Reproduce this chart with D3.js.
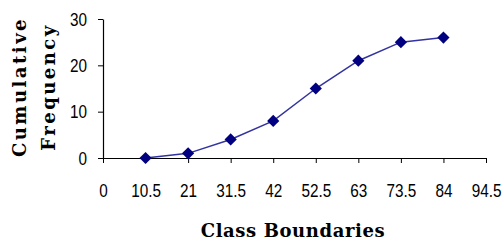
<!DOCTYPE html>
<html>
<head>
<meta charset="utf-8">
<script src="https://cdn.jsdelivr.net/npm/d3@7"></script>
<style>
  body { margin: 0; background: #fff; }
  svg { display: block; }
</style>
</head>
<body>
<div id="chart"></div>
<script>
(function () {
  // data
  const boundaries = [10.5, 21, 31.5, 42, 52.5, 63, 73.5, 84];
  const cumFreq = [0, 1, 4, 8, 15, 21, 25, 26];
  const xTicks = [0, 10.5, 21, 31.5, 42, 52.5, 63, 73.5, 84, 94.5];
  const yTicks = [0, 10, 20, 30];

  const W = 504, H = 242;
  const margin = { top: 19, right: 18, bottom: 84, left: 103 };
  const width = W - margin.left - margin.right;
  const height = H - margin.top - margin.bottom;

  const svg = d3.select("#chart").append("svg")
    .attr("width", W)
    .attr("height", H);

  const g = svg.append("g")
    .attr("transform", "translate(" + margin.left + "," + margin.top + ")");

  const x = d3.scaleLinear().domain([0, 94.5]).range([0, width]);
  const y = d3.scaleLinear().domain([0, 30]).range([height, 0]);

  // axes
  const yAxis = g.append("g")
    .call(d3.axisLeft(y).tickValues(yTicks).tickSize(5).tickSizeOuter(0).tickFormat(d3.format("d")));
  const xAxis = g.append("g")
    .attr("transform", "translate(0," + height + ")")
    .call(d3.axisBottom(x).tickValues(xTicks).tickSize(5).tickSizeOuter(0).tickFormat(d => String(d)));

  [xAxis, yAxis].forEach(a => {
    a.select(".domain").attr("stroke", "#000").attr("stroke-width", 1.2);
    a.selectAll(".tick line").attr("stroke", "#000");
    a.selectAll("text")
      .attr("fill", "#000")
      .attr("font-family", "Liberation Sans, Arial, sans-serif")
      .attr("font-size", "18px");
  });
  // the labels in the picture are tall and narrow
  xAxis.selectAll("text").attr("y", 0).attr("dy", 0)
    .attr("transform", "translate(0,39) scale(0.85,1)");
  yAxis.selectAll("text").attr("x", 0).attr("dy", 0)
    .attr("transform", "translate(-16,6) scale(0.85,1)");

  // line + diamond markers
  const pts = boundaries.map((b, i) => ({ x: b, y: cumFreq[i] }));

  const line = d3.line()
    .x(d => x(d.x))
    .y(d => y(d.y));

  g.append("path")
    .datum(pts)
    .attr("d", line)
    .attr("fill", "none")
    .attr("stroke", "#3333a0")
    .attr("stroke-width", 1.5);

  g.selectAll(".pt")
    .data(pts)
    .enter().append("path")
    .attr("class", "pt")
    .attr("d", d3.symbol().type(d3.symbolDiamond2).size(95))
    .attr("transform", d => "translate(" + x(d.x) + "," + y(d.y) + ")")
    .attr("fill", "#000080");

  // titles
  svg.append("text")
    .attr("x", 293)
    .attr("y", 237)
    .attr("text-anchor", "middle")
    .attr("font-family", "DejaVu Serif, serif")
    .attr("font-weight", "bold")
    .attr("font-size", "18px")
    .attr("letter-spacing", "0.6px")
    .text("Class Boundaries");

  const yTitle = svg.append("text")
    .attr("transform", "translate(0,87) rotate(-90)")
    .attr("text-anchor", "middle")
    .attr("font-family", "DejaVu Serif, serif")
    .attr("font-weight", "bold")
    .attr("font-size", "18px")
    .attr("letter-spacing", "2.5px");
  yTitle.append("tspan").attr("x", 0).attr("y", 26).text("Cumulative");
  yTitle.append("tspan").attr("x", 0).attr("y", 55).text("Frequency");
})();
</script>
</body>
</html>
